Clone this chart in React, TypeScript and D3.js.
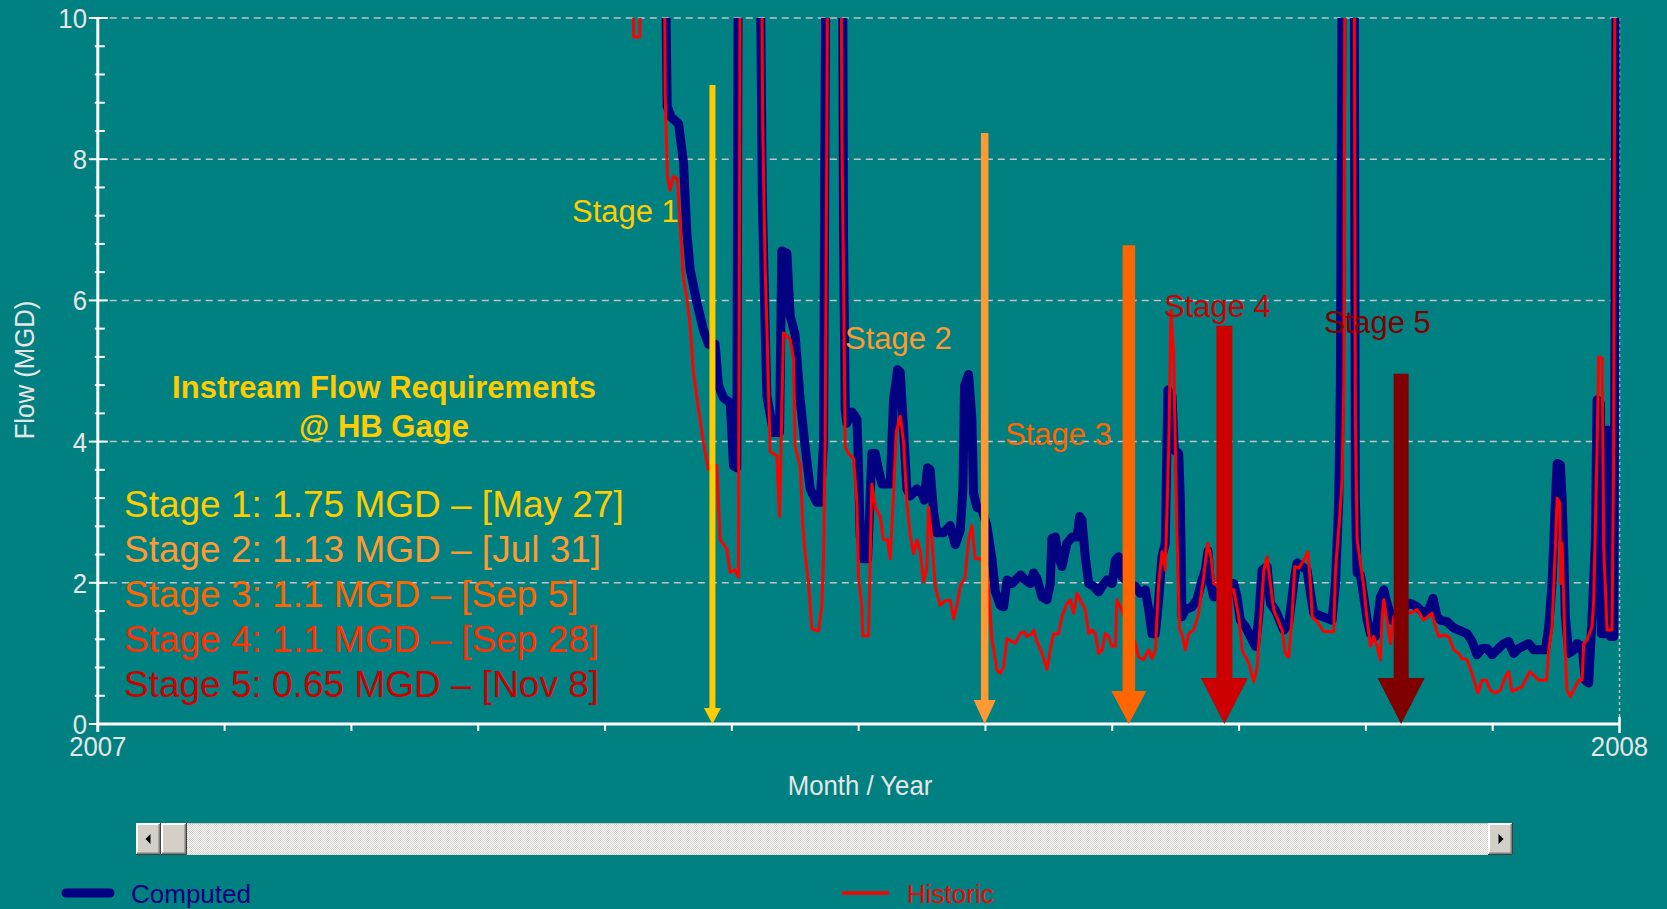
import React from "react";
import * as d3 from "d3";

// time in fractional months since 1 Jan 2007, flow in MGD
const computedFlow: [number, number][] = [
  [4.1, 14], [4.455, 14], [4.49, 8.75], [4.52, 8.6], [4.58, 8.5], [4.619, 7.95], [4.645, 6.96],
  [4.671, 6.44], [4.724, 5.97], [4.776, 5.58], [4.816, 5.38], [4.868, 5.38], [4.895, 4.79],
  [4.934, 4.62], [4.987, 4.55], [5.013, 3.66], [5.039, 3.63], [5.055, 14], [5.21, 14],
  [5.24, 7.5], [5.263, 5.6], [5.276, 4.65], [5.328, 4.13], [5.376, 4.13], [5.394, 6.7],
  [5.434, 6.67], [5.46, 5.78], [5.499, 5.51], [5.539, 4.59], [5.578, 3.93], [5.618, 3.33],
  [5.67, 3.14], [5.697, 3.14], [5.723, 3.99], [5.736, 8.94], [5.75, 14], [5.868, 14],
  [5.881, 6.83], [5.894, 4.46], [5.907, 4.26], [5.947, 4.42], [5.986, 4.32], [5.999, 3.66],
  [6.012, 2.67], [6.039, 2.34], [6.07, 2.34], [6.086, 3.0], [6.104, 3.83], [6.131, 3.83],
  [6.157, 3.6], [6.183, 3.4], [6.249, 3.4], [6.275, 4.59], [6.307, 5.02], [6.328, 4.98],
  [6.354, 4.19], [6.38, 3.33], [6.407, 3.23], [6.459, 3.33], [6.499, 3.27], [6.517, 3.17],
  [6.543, 3.63], [6.564, 3.6], [6.591, 3.0], [6.617, 2.71], [6.67, 2.71], [6.722, 2.81],
  [6.762, 2.54], [6.801, 2.74], [6.822, 3.33], [6.835, 4.79], [6.867, 4.95], [6.893, 4.32],
  [6.906, 3.27], [6.932, 3.07], [6.972, 3.04], [7.011, 2.81], [7.051, 2.34], [7.077, 1.88],
  [7.117, 1.68], [7.143, 1.66], [7.17, 2.04], [7.209, 1.99], [7.248, 2.06], [7.275, 2.11],
  [7.314, 2.04], [7.354, 1.99], [7.38, 2.14], [7.406, 2.06], [7.446, 1.8], [7.485, 1.76],
  [7.511, 1.99], [7.524, 2.63], [7.551, 2.65], [7.577, 2.37], [7.603, 2.23], [7.643, 2.56],
  [7.682, 2.65], [7.722, 2.65], [7.743, 2.94], [7.761, 2.89], [7.787, 2.37], [7.814, 1.99],
  [7.853, 1.95], [7.893, 1.87], [7.919, 1.95], [7.958, 2.04], [7.998, 1.99], [8.024, 2.32],
  [8.05, 2.37], [8.077, 2.09], [8.129, 1.99], [8.182, 1.95], [8.221, 1.85], [8.261, 1.9],
  [8.287, 1.62], [8.313, 1.28], [8.34, 1.28], [8.366, 1.76], [8.392, 2.37], [8.418, 2.56],
  [8.439, 4.73], [8.471, 4.64], [8.489, 3.88], [8.524, 3.83], [8.537, 3.17], [8.55, 1.52],
  [8.576, 1.62], [8.629, 1.66], [8.668, 1.76], [8.708, 2.04], [8.734, 2.18], [8.755, 2.45],
  [8.774, 1.99], [8.8, 1.8], [8.892, 1.95], [8.958, 1.99], [8.984, 1.8], [9.01, 1.47],
  [9.05, 1.38], [9.089, 1.24], [9.129, 1.1], [9.155, 1.52], [9.181, 2.18], [9.221, 2.23],
  [9.247, 1.71], [9.287, 1.61], [9.352, 1.33], [9.392, 1.43], [9.431, 1.99], [9.457, 2.28],
  [9.536, 2.18], [9.563, 1.85], [9.589, 1.57], [9.733, 1.47], [9.76, 1.99], [9.786, 3.17],
  [9.799, 4.83], [9.82, 14], [9.904, 14], [9.917, 3.22], [9.931, 2.14], [9.957, 2.11],
  [9.983, 1.8], [10.01, 1.47], [10.036, 1.28], [10.075, 1.24], [10.115, 1.8], [10.141, 1.9],
  [10.167, 1.71], [10.207, 1.47], [10.272, 1.62], [10.351, 1.71], [10.403, 1.66],
  [10.456, 1.57], [10.495, 1.62], [10.53, 1.78], [10.561, 1.52], [10.588, 1.47], [10.64, 1.45],
  [10.693, 1.36], [10.798, 1.28], [10.837, 1.17], [10.877, 0.98], [10.916, 1.07],
  [10.956, 1.07], [10.995, 0.98], [11.034, 1.05], [11.087, 1.14], [11.126, 1.17],
  [11.166, 1.0], [11.205, 1.07], [11.284, 1.14], [11.324, 1.05], [11.416, 1.05],
  [11.442, 1.38], [11.468, 1.99], [11.494, 3.13], [11.508, 3.69], [11.534, 3.67],
  [11.547, 3.22], [11.56, 2.47], [11.573, 1.52], [11.6, 1.0], [11.639, 1.05], [11.665, 1.14],
  [11.705, 1.1], [11.731, 0.62], [11.757, 0.58], [11.784, 1.52], [11.81, 2.61], [11.823, 4.59],
  [11.849, 4.54], [11.857, 1.28], [11.881, 1.28], [11.889, 4.16], [11.915, 4.16],
  [11.928, 1.24], [11.955, 1.24], [11.968, 8], [11.98, 14], [12.0, 14],
];

const historicFlow: [number, number][] = [
  [4.1, 14], [4.223, 14], [4.225, 9.73], [4.275, 9.73], [4.277, 14], [4.461, 14],
  [4.474, 8.94], [4.492, 7.76], [4.513, 7.56], [4.54, 7.76], [4.571, 7.72], [4.592, 7.1],
  [4.619, 6.3], [4.645, 6.04], [4.671, 5.64], [4.697, 4.98], [4.737, 4.46], [4.776, 3.99],
  [4.816, 3.6], [4.881, 3.66], [4.908, 2.61], [4.96, 2.48], [4.987, 2.15], [5.026, 2.18],
  [5.052, 2.08], [5.071, 14], [5.223, 14], [5.244, 8.42], [5.263, 6.44], [5.276, 5.64],
  [5.302, 3.86], [5.355, 3.8], [5.376, 2.94], [5.391, 4.19], [5.407, 5.54], [5.46, 5.45],
  [5.486, 5.18], [5.499, 3.93], [5.539, 3.66], [5.56, 2.81], [5.578, 2.41], [5.604, 2.01],
  [5.631, 1.35], [5.67, 1.32], [5.684, 1.32], [5.71, 1.68], [5.723, 2.34], [5.736, 3.99],
  [5.749, 8.28], [5.763, 14], [5.855, 14], [5.868, 8.28], [5.881, 6.3], [5.894, 3.93],
  [5.92, 3.83], [5.96, 3.76], [5.986, 3.14], [5.999, 2.08], [6.025, 1.68], [6.033, 1.25],
  [6.078, 1.25], [6.091, 2.34], [6.104, 3.4], [6.131, 3.07], [6.17, 2.94], [6.196, 2.61],
  [6.228, 2.61], [6.249, 2.34], [6.275, 3.27], [6.296, 4.13], [6.328, 4.36], [6.354, 3.99],
  [6.38, 3.14], [6.407, 2.67], [6.433, 2.41], [6.459, 2.61], [6.486, 2.44], [6.512, 2.01],
  [6.538, 2.21], [6.551, 3.07], [6.578, 2.61], [6.604, 1.95], [6.643, 1.68], [6.683, 1.75],
  [6.722, 1.75], [6.749, 1.49], [6.775, 1.68], [6.801, 1.95], [6.84, 2.08], [6.867, 2.61],
  [6.893, 2.81], [6.919, 2.34], [6.959, 2.34], [7.011, 2.21], [7.051, 1.22], [7.09, 0.76],
  [7.117, 0.72], [7.143, 0.81], [7.17, 1.21], [7.235, 1.14], [7.275, 1.28], [7.301, 1.31],
  [7.327, 1.24], [7.367, 1.28], [7.38, 1.33], [7.406, 1.17], [7.446, 1.0], [7.485, 0.77],
  [7.511, 1.05], [7.538, 1.28], [7.577, 1.28], [7.603, 1.52], [7.643, 1.71], [7.669, 1.76],
  [7.695, 1.57], [7.722, 1.85], [7.761, 1.71], [7.787, 1.62], [7.814, 1.28], [7.84, 1.33],
  [7.866, 1.28], [7.893, 1.0], [7.919, 1.05], [7.945, 1.28], [7.971, 1.24], [7.998, 1.1],
  [8.024, 1.1], [8.037, 1.76], [8.063, 1.66], [8.129, 1.38], [8.182, 1.14], [8.208, 0.95],
  [8.247, 0.91], [8.287, 1.05], [8.313, 0.93], [8.34, 1.05], [8.366, 1.99], [8.392, 2.44],
  [8.418, 2.18], [8.445, 3.88], [8.463, 5.86], [8.484, 5.25], [8.51, 2.7], [8.531, 1.33],
  [8.55, 1.28], [8.576, 1.05], [8.602, 1.28], [8.642, 1.33], [8.681, 1.57], [8.721, 2.09],
  [8.752, 2.56], [8.779, 2.37], [8.8, 1.99], [8.892, 1.9], [8.958, 1.9], [8.997, 1.52],
  [9.024, 1.05], [9.076, 0.86], [9.116, 0.6], [9.142, 0.81], [9.168, 1.43], [9.195, 2.18],
  [9.221, 2.37], [9.247, 1.99], [9.273, 1.62], [9.339, 1.33], [9.365, 1.0], [9.392, 0.95],
  [9.418, 1.52], [9.439, 2.23], [9.471, 2.21], [9.51, 2.32], [9.542, 2.44], [9.563, 1.99],
  [9.576, 1.52], [9.615, 1.45], [9.668, 1.31], [9.747, 1.31], [9.76, 2.18], [9.794, 2.94],
  [9.812, 3.46], [9.826, 4.83], [9.839, 14], [9.904, 14], [9.917, 4.35], [9.931, 2.61],
  [9.957, 2.28], [9.983, 1.95], [10.01, 1.47], [10.036, 1.1], [10.062, 1.24], [10.088, 1.1],
  [10.115, 0.91], [10.128, 1.52], [10.141, 1.76], [10.167, 1.47], [10.194, 1.14],
  [10.22, 1.52], [10.3, 1.6], [10.351, 1.57], [10.403, 1.62], [10.456, 1.47], [10.522, 1.57],
  [10.548, 1.38], [10.574, 1.24], [10.614, 1.26], [10.653, 1.24], [10.693, 1.05],
  [10.732, 1.0], [10.758, 0.93], [10.798, 0.91], [10.837, 0.72], [10.882, 0.44],
  [10.916, 0.62], [10.95, 0.62], [10.982, 0.48], [11.021, 0.44], [11.061, 0.48], [11.1, 0.67],
  [11.126, 0.74], [11.153, 0.46], [11.232, 0.53], [11.258, 0.62], [11.292, 0.74],
  [11.324, 0.69], [11.363, 0.62], [11.424, 0.62], [11.442, 1.05], [11.468, 1.38],
  [11.494, 2.47], [11.508, 3.2], [11.529, 3.13], [11.536, 1.99], [11.547, 2.56],
  [11.558, 1.9], [11.571, 1.05], [11.586, 0.48], [11.613, 0.39], [11.652, 0.53],
  [11.679, 0.62], [11.705, 0.62], [11.718, 1.14], [11.744, 1.19], [11.784, 1.38],
  [11.797, 1.76], [11.823, 3.88], [11.836, 5.2], [11.863, 5.18], [11.876, 2.47],
  [11.902, 1.33], [11.941, 1.33], [11.954, 3.88], [11.968, 14], [12.0, 14],
];

const yMajorTicks = [0, 2, 4, 6, 8, 10];
const yMinorStep = 0.4;
const xMonthTicks = d3.range(0, 13);
const xEndLabels: [number, string][] = [[0, "2007"], [12, "2008"]];
const yAxisTitle = "Flow (MGD)";
const xAxisTitle = "Month / Year";
const seriesNames = ["Computed", "Historic"];

const stageNames = ["Stage 1", "Stage 2", "Stage 3", "Stage 4", "Stage 5"];
const stageMGD = ["1.75", "1.13", "1.1", "1.1", "0.65"];
const stageDates = ["May 27", "Jul 31", "Sep 5", "Sep 28", "Nov 8"];
const stageArrowMonth = [4.847, 6.994, 8.131, 8.884, 10.278];
const stageArrowTop = [9.05, 8.37, 6.78, 5.64, 4.96];
const titleLines = ["Instream Flow Requirements", "@ HB Gage"];

// styles / layout
const W = 1667;
const H = 909;
const BG = "#008080";
const FONT = "'Liberation Sans', Arial, Helvetica, sans-serif";
const AX = "#e6e6e6";
const arrowColors = ["#ffcc00", "#ff9933", "#ff6600", "#cc0000", "#800000"];
const arrowShaft = [6, 7.5, 12.5, 16, 15];
const arrowHeadW = [17, 22, 35, 47, 47];
const arrowHeadH = [16, 24, 33, 46, 46];
const stageLabelColors = ["#ffcc00", "#ff9933", "#ff6600", "#cc0000", "#800000"];
const stageLabelPos: [number, number][] = [[572, 222], [845, 349], [1005, 445], [1164, 317], [1324, 333]];
const listColors = ["#ffcc00", "#ff9933", "#ff6600", "#ff3300", "#cc0000"];

const x = d3.scaleLinear().domain([0, 12]).range([97.8, 1619.5]);
const y = d3.scaleLinear().domain([0, 10]).range([724, 18]);

function Button({ bx, by, bw, bh, dir }: { bx: number; by: number; bw: number; bh: number; dir: number }) {
  const cx = bx + bw / 2;
  const cy = by + bh / 2;
  return (
    <g>
      <rect x={bx} y={by} width={bw} height={bh} fill="#d4d0c8" />
      <path d={`M${bx + 1},${by + bh - 1}V${by + 1}H${bx + bw - 1}`} stroke="#ffffff" strokeWidth={2} fill="none" />
      <path d={`M${bx + 1},${by + bh - 1.5}H${bx + bw - 1.5}V${by + 1}`} stroke="#808080" strokeWidth={2} fill="none" />
      <path d={`M${bx},${by + bh - 0.5}H${bx + bw - 0.5}V${by}`} stroke="#404040" strokeWidth={1} fill="none" />
      {dir !== 0 && (
        <path d={`M${cx + dir * 3},${cy}L${cx - dir * 2},${cy - 5}L${cx - dir * 2},${cy + 5}Z`} fill="#000" />
      )}
    </g>
  );
}

export default function App() {
  const line = d3.line<[number, number]>().x((d) => x(d[0])).y((d) => y(d[1]));
  const minorTicks = d3.range(yMinorStep, 10, yMinorStep).filter((v) => Math.abs(v / 2 - Math.round(v / 2)) > 0.01);

  return (
    <svg width={W} height={H} style={{ position: "absolute", left: 0, top: 0, display: "block" }} fontFamily={FONT}>
      <defs>
        <clipPath id="plot">
          <rect x={x(0)} y={y(10)} width={x(12) - x(0)} height={y(0) - y(10)} />
        </clipPath>
        <pattern id="dither" width={2} height={2} patternUnits="userSpaceOnUse">
          <rect width={2} height={2} fill="#ffffff" />
          <rect width={1} height={1} fill="#d4d0c8" />
          <rect x={1} y={1} width={1} height={1} fill="#d4d0c8" />
        </pattern>
      </defs>
      <rect x={0} y={0} width={W} height={H} fill={BG} />

      {/* grid */}
      {yMajorTicks.filter((v) => v > 0).map((v) => (
        <line key={v} x1={x(0)} x2={x(12)} y1={y(v)} y2={y(v)} stroke="#c4c4c4" strokeWidth={1.5} strokeDasharray="7,5" />
      ))}
      <line x1={x(12)} x2={x(12)} y1={y(10)} y2={y(0)} stroke="#c4c4c4" strokeWidth={1.5} strokeDasharray="3,3" />

      {/* series */}
      <g clipPath="url(#plot)">
        <path d={line(computedFlow) || ""} fill="none" stroke="#000080" strokeWidth={9} strokeLinejoin="round" />
        <path d={line(historicFlow) || ""} fill="none" stroke="#ff0000" strokeWidth={3} strokeLinejoin="round" />
      </g>

      {/* axes */}
      <line x1={x(0)} x2={x(0)} y1={y(10) - 1} y2={y(0) + 8} stroke="#ffffff" strokeWidth={3} />
      <line x1={x(0)} x2={x(12)} y1={y(0)} y2={y(0)} stroke="#ffffff" strokeWidth={3} />
      <line x1={x(12)} x2={x(12)} y1={y(0) - 7} y2={y(0) + 9} stroke="#ffffff" strokeWidth={2.5} />
      {minorTicks.map((v) => (
        <line key={"m" + v} x1={x(0) - 3} x2={x(0) + 7} y1={y(v)} y2={y(v)} stroke="#ffffff" strokeWidth={2} />
      ))}
      {yMajorTicks.map((v) => (
        <line key={"M" + v} x1={x(0) - 9} x2={x(0) + 10} y1={y(v)} y2={y(v)} stroke="#ffffff" strokeWidth={2} />
      ))}
      {xMonthTicks.slice(1, 12).map((m) => (
        <line key={"x" + m} x1={x(m)} x2={x(m)} y1={y(0)} y2={y(0) + 7} stroke="#ffffff" strokeWidth={2} />
      ))}
      {yMajorTicks.map((v) => (
        <g key={"yl" + v} transform={`translate(87,${y(v) + 10}) scale(0.92,1)`}>
          <text textAnchor="end" fontSize={28} fill={AX}>{v}</text>
        </g>
      ))}
      {xEndLabels.map(([m, s]) => (
        <g key={s} transform={`translate(${x(m)},756) scale(0.92,1)`}>
          <text textAnchor="middle" fontSize={28} fill={AX}>{s}</text>
        </g>
      ))}
      <g transform={`translate(860,795) scale(0.92,1)`}>
        <text textAnchor="middle" fontSize={28} fill={AX}>{xAxisTitle}</text>
      </g>
      <g transform={`translate(34,370) rotate(-90) scale(0.92,1)`}>
        <text textAnchor="middle" fontSize={28} fill={AX}>{yAxisTitle}</text>
      </g>

      {/* arrows */}
      {stageArrowMonth.map((m, i) => {
        const cx = x(m);
        const ty = y(stageArrowTop[i]);
        const by = y(0);
        const w = arrowShaft[i] / 2;
        const hw = arrowHeadW[i] / 2;
        const hh = arrowHeadH[i];
        const d = `M${cx - w},${ty}L${cx + w},${ty}L${cx + w},${by - hh}L${cx + hw},${by - hh}L${cx},${by}L${cx - hw},${by - hh}L${cx - w},${by - hh}Z`;
        return <path key={"a" + i} d={d} fill={arrowColors[i]} />;
      })}

      {/* stage labels near arrows */}
      {stageNames.map((s, i) => (
        <text key={"sl" + i} x={stageLabelPos[i][0]} y={stageLabelPos[i][1]} fontSize={31} fill={stageLabelColors[i]}>{s}</text>
      ))}

      {/* title + list */}
      {titleLines.map((t, i) => (
        <text key={"t" + i} x={384} y={398 + i * 39} textAnchor="middle" fontSize={31} fontWeight="bold" fill="#ffcc00">{t}</text>
      ))}
      {stageNames.map((s, i) => (
        <text key={"li" + i} x={124} y={517 + i * 45} fontSize={37} fill={listColors[i]}>
          {`${s}: ${stageMGD[i]} MGD – [${stageDates[i]}]`}
        </text>
      ))}

      {/* scrollbar */}
      <rect x={136} y={823} width={1377} height={32} fill="url(#dither)" />
      <line x1={136} x2={1513} y1={823.5} y2={823.5} stroke="#c8c8c8" strokeWidth={1} />
      <Button bx={136} by={823} bw={25} bh={32} dir={-1} />
      <Button bx={161} by={823} bw={26} bh={32} dir={0} />
      <Button bx={1488} by={823} bw={25} bh={32} dir={1} />

      {/* legend */}
      <line x1={66} x2={110} y1={893} y2={893} stroke="#000080" strokeWidth={9} strokeLinecap="round" />
      <text x={131} y={903} fontSize={26} fill="#000080">{seriesNames[0]}</text>
      <line x1={842} x2={889} y1={893} y2={893} stroke="#ff0000" strokeWidth={3.5} />
      <text x={907} y={903} fontSize={26} fill="#ff0000">{seriesNames[1]}</text>
    </svg>
  );
}
